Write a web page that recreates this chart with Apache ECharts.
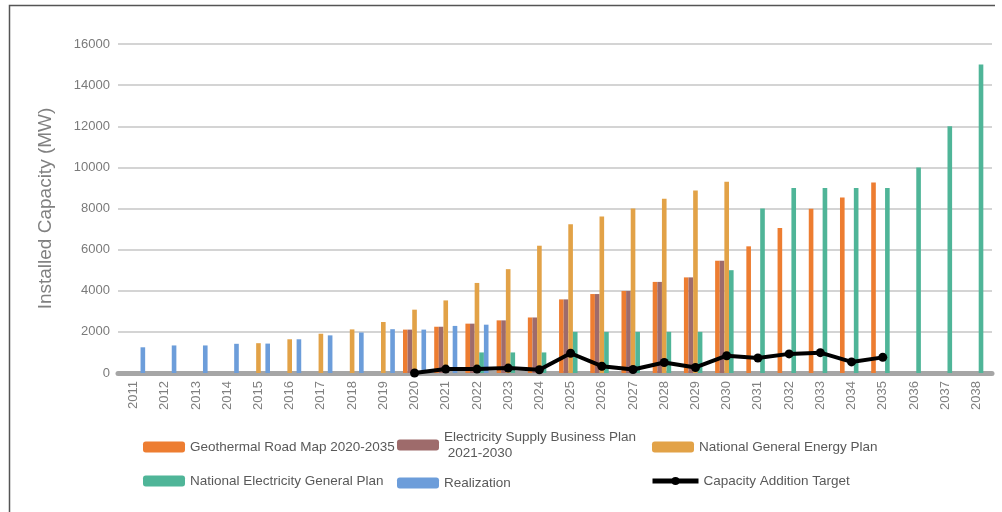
<!DOCTYPE html>
<html>
<head>
<meta charset="utf-8">
<script src="https://cdn.jsdelivr.net/npm/echarts@6/dist/echarts.min.js"></script>
<style>
  html, body { margin: 0; padding: 0; background: #fff; }
  #chart { width: 1002px; height: 512px; }
</style>
</head>
<body>
<div id="chart"></div>
<script>
// Installed geothermal capacity (MW) by year
const years = ['2011','2012','2013','2014','2015','2016','2017','2018','2019','2020',
  '2021','2022','2023','2024','2025','2026','2027','2028','2029','2030',
  '2031','2032','2033','2034','2035','2036','2037','2038'];

const roadMap = [null,null,null,null,null,null,null,null,null,
  2110, 2250, 2400, 2560, 2700, 3580, 3840, 3990, 4430, 4650, 5460,
  6160, 7050, 7990, 8540, 9270, null, null, null];

const supplyPlan = [null,null,null,null,null,null,null,null,null,
  2110, 2250, 2400, 2560, 2700, 3580, 3840, 3990, 4430, 4650, 5460,
  null,null,null,null,null,null,null,null];

const energyPlan = [null,null,null,null,
  1450, 1640, 1910, 2120, 2480, 3080, 3530, 4380, 5050, 6190, 7240, 7610,
  8000, 8470, 8880, 9300, null,null,null,null,null,null,null,null];

const electricityPlan = [null,null,null,null,null,null,null,null,null,null,null,
  1000, 1000, 1000, 2000, 2000, 2000, 2000, 2000, 5000,
  8000, 9000, 9000, 9000, 9000, 10000, 12000, 15000];

const realization = [1250, 1340, 1340, 1420, 1430, 1640, 1830, 1970, 2130, 2110,
  2290, 2350, null,null,null,null,null,null,null,null,null,null,null,null,null,null,null,null];

const additionTarget = [null,null,null,null,null,null,null,null,null,
  0, 190, 190, 240, 160, 960, 330, 170, 510, 270, 840,
  730, 930, 990, 540, 760, null, null, null];

const yTicks = { min: 0, max: 16000, interval: 2000 };

const names = {
  road: 'Geothermal Road Map 2020-2035',
  supply: 'Electricity Supply Business Plan\n 2021-2030',
  energy: 'National General Energy Plan',
  elec: 'National Electricity General Plan',
  real: 'Realization',
  target: 'Capacity Addition Target'
};

const colors = {
  road: '#ED7D31',
  supply: '#9E6B6B',
  energy: '#E2A247',
  elec: '#4FB598',
  real: '#6C9DDA',
  target: '#000000'
};

const chart = echarts.init(document.getElementById('chart'), null, { renderer: 'canvas' });

const legendFont = {
  fontFamily: '"Liberation Sans", Arial, sans-serif',
  fontSize: 13.5,
  color: '#595959',
  lineHeight: 16
};

function legendAt(name, left, top, isLine) {
  const lg = {
    data: [name],
    left: left,
    top: top,
    orient: 'horizontal',
    itemWidth: isLine ? 46 : 42,
    itemHeight: isLine ? 10 : 11,
    itemGap: 0,
    padding: 0,
    selectedMode: false,
    textStyle: legendFont
  };
  if (isLine) {
    lg.lineStyle = { width: 5 };
  }
  return lg;
}

function barSeries(key, data) {
  return {
    name: names[key],
    type: 'bar',
    data: data,
    barGap: '0%',
    barCategoryGap: '26%',
    itemStyle: { color: colors[key] },
    emphasis: { disabled: true }
  };
}

const option = {
  animation: false,
  backgroundColor: '#ffffff',
  textStyle: { fontFamily: '"Liberation Sans", Arial, sans-serif' },
  grid: { left: 118, right: 10, top: 44, bottom: 139, containLabel: false },
  graphic: [
    {
      type: 'polyline',
      shape: { points: [[9.5, 512], [9.5, 5.5], [995, 5.5]] },
      style: { stroke: '#555555', lineWidth: 1.5, fill: null },
      silent: true
    }
  ],
  legend: [
    legendAt(names.road, 143, 439, false),
    legendAt(names.supply, 397, 429, false),
    legendAt(names.energy, 652, 439, false),
    legendAt(names.elec, 143, 473, false),
    legendAt(names.real, 397, 475, false),
    legendAt(names.target, 650, 473, true)
  ],
  xAxis: {
    type: 'category',
    data: years,
    axisLine: { show: true, lineStyle: { color: '#A6A6A6', width: 5 } },
    axisTick: { show: false },
    axisLabel: {
      rotate: 90,
      color: '#808080',
      fontSize: 13,
      margin: 8,
      interval: 0
    }
  },
  yAxis: {
    type: 'value',
    min: yTicks.min,
    max: yTicks.max,
    interval: yTicks.interval,
    name: 'Installed Capacity (MW)',
    nameLocation: 'middle',
    nameGap: 63,
    nameTextStyle: { color: '#808080', fontSize: 19 },
    axisLine: { show: false },
    axisTick: { show: false },
    axisLabel: {
      color: '#7a7a7a',
      fontSize: 13,
      margin: 8,
      formatter: function (v) { return String(v); }
    },
    splitLine: { lineStyle: { color: '#D4D4D4', width: 2 } }
  },
  series: [
    barSeries('road', roadMap),
    barSeries('supply', supplyPlan),
    barSeries('energy', energyPlan),
    barSeries('elec', electricityPlan),
    barSeries('real', realization),
    {
      name: names.target,
      type: 'line',
      data: additionTarget,
      z: 5,
      symbol: 'circle',
      symbolSize: 9,
      lineStyle: { color: colors.target, width: 4 },
      itemStyle: { color: colors.target },
      emphasis: { disabled: true }
    }
  ]
};

chart.setOption(option);
</script>
</body>
</html>
